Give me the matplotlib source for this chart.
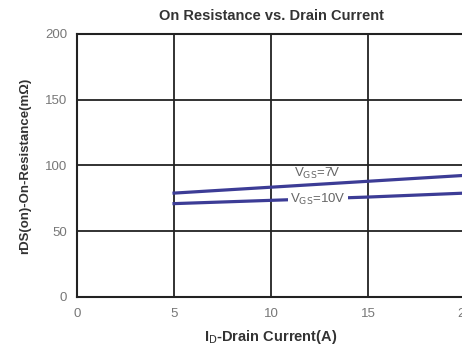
import matplotlib.pyplot as plt
import numpy as np

plt.rcParams['font.family'] = ['Liberation Sans', 'DejaVu Sans']

# drain current (A) and on resistance (mOhm)
current = [5, 10, 15, 20]
rds_7v = [79, 83.5, 88, 92.5]
rds_10v = [71, 73.5, 76, 79]

xticks = [0, 5, 10, 15, 20]
yticks = [0, 50, 100, 150, 200]

fig = plt.figure(figsize=(4.62, 3.48), dpi=100)
ax = fig.add_axes([0.1667, 0.1466, 0.84, 0.7557])

ax.plot(current, rds_7v, color='#3c3c96', lw=2.3, zorder=3)
ax.plot(current, rds_10v, color='#3c3c96', lw=2.3, zorder=3)

ax.text(12.4, 88.5, r'V$_{\mathrm{GS}}$=7V', fontsize=9.5, color='#666666', ha='center', va='bottom', zorder=4)
ax.text(12.4, 74.3, r'V$_{\mathrm{GS}}$=10V', fontsize=9.5, color='#666666', ha='center', va='center', zorder=4,
        bbox=dict(facecolor='white', edgecolor='none', pad=1.5))

ax.set_xlim(0, 20)
ax.set_ylim(0, 200)
ax.set_xticks(xticks)
ax.set_yticks(yticks)
ax.grid(True, color='#222222', lw=1.3)
ax.set_axisbelow(True)
for s in ax.spines.values():
    s.set_color('#222222')
    s.set_linewidth(1.5)
ax.tick_params(length=0, labelsize=9.5, labelcolor='#777777')
ax.tick_params(axis='y', pad=7)
ax.tick_params(axis='x', pad=8)

ax.set_title('On Resistance vs. Drain Current', fontsize=10.5, fontweight='bold', color='#333333', pad=10)
ax.set_xlabel(r'I$_{\mathrm{D}}$-Drain Current(A)', fontsize=10.5, fontweight='bold', color='#333333', labelpad=6)
ax.set_ylabel('rDS(on)-On-Resistance(mΩ)', fontsize=9.5, fontweight='bold', color='#333333', labelpad=10)

fig.savefig('out.png', dpi=100)
